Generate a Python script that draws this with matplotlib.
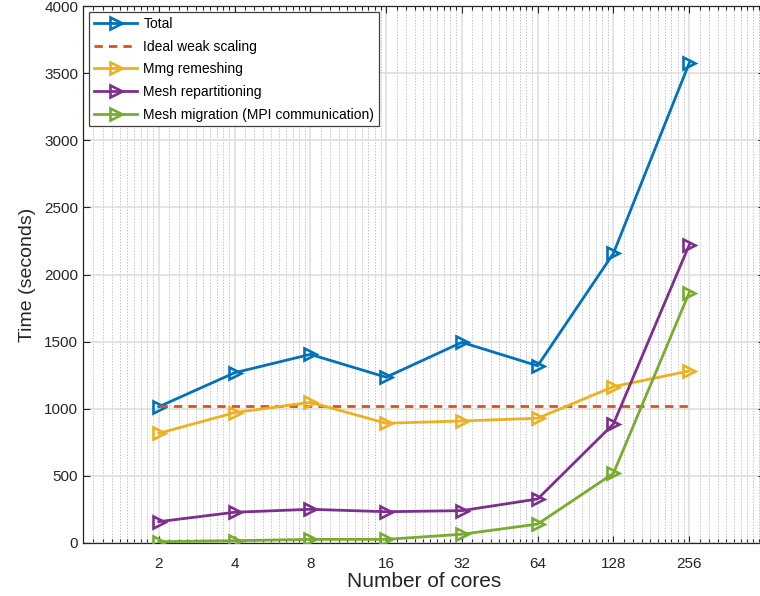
import numpy as np
import matplotlib
matplotlib.use("Agg")
import matplotlib.pyplot as plt
from matplotlib.ticker import FixedLocator, NullFormatter

# values
cores = [2, 4, 8, 16, 32, 64, 128, 256]
total = [1015, 1268, 1405, 1235, 1495, 1320, 2158, 3575]
ideal = [1018, 1018, 1018, 1018, 1018, 1018, 1018, 1018]
mmg = [817, 971, 1048, 892, 909, 929, 1165, 1281]
repartition = [159, 229, 251, 233, 241, 328, 887, 2220]
migration = [10, 17, 27, 27, 65, 141, 519, 1865]
tick_labels = ['2', '4', '8', '16', '32', '64', '128', '256']

plt.rcParams['font.family'] = ['Liberation Sans', 'DejaVu Sans']

BLUE = '#0072BD'
ORANGE = '#D95319'
YELLOW = '#EDB120'
PURPLE = '#7E2F8E'
GREEN = '#77AC30'


def plot_series(ax, y, color, label):
    ax.plot(cores, y, color=color, lw=2.0, marker='>', ms=8.5,
            mfc='none', mec=color, mew=1.9, label=label, zorder=3)


fig = plt.figure(figsize=(7.6, 5.96), dpi=100)
ax = fig.add_axes([83 / 760, 53 / 596, (765 - 83) / 760, (543 - 6) / 596])

plot_series(ax, total, BLUE, 'Total')
ax.plot(cores, ideal, color=ORANGE, lw=2.0, ls=(0, (3.0, 2.2)),
        label='Ideal weak scaling', zorder=3)
plot_series(ax, mmg, YELLOW, 'Mmg remeshing')
plot_series(ax, repartition, PURPLE, 'Mesh repartitioning')
plot_series(ax, migration, GREEN, 'Mesh migration (MPI communication)')

ax.set_xscale('log', base=2)
ax.set_xlim(1, 512)
ax.set_ylim(0, 4000)
ax.set_xticks(cores)
ax.set_xticklabels(tick_labels)
minor = [2 ** k * (1 + 0.1 * j) for k in range(9) for j in range(1, 10)]
ax.xaxis.set_minor_locator(FixedLocator(minor))
ax.xaxis.set_minor_formatter(NullFormatter())
ax.set_yticks(np.arange(0, 4001, 500))

ax.grid(True, which='major', color='#dcdcdc', lw=1.1, zorder=0)
ax.grid(True, which='minor', axis='x', color='#c4c4c4', lw=0.7,
        ls=(0, (1.5, 1.5)), zorder=0)
ax.set_axisbelow(True)

ax.tick_params(which='both', direction='in', top=True, right=True,
               colors='#262626', labelsize=11, width=0.8)
ax.tick_params(which='major', length=5)
ax.tick_params(which='minor', length=3)
ax.tick_params(axis='x', pad=10)
for s in ax.spines.values():
    s.set_color('#262626')
    s.set_linewidth(0.9)

ax.set_xlabel('Number of cores', fontsize=15, color='#262626', labelpad=1)
ax.set_ylabel('Time (seconds)', fontsize=14, color='#262626', labelpad=6)

leg = ax.legend(loc='upper left', bbox_to_anchor=(0.0, 1.0), fontsize=10,
                handlelength=3.1, labelspacing=0.62, borderaxespad=0.45,
                handletextpad=0.45, borderpad=0.35, fancybox=False,
                framealpha=1, edgecolor='#404040')
leg.get_frame().set_linewidth(0.9)

fig.savefig('out.png', dpi=100)
